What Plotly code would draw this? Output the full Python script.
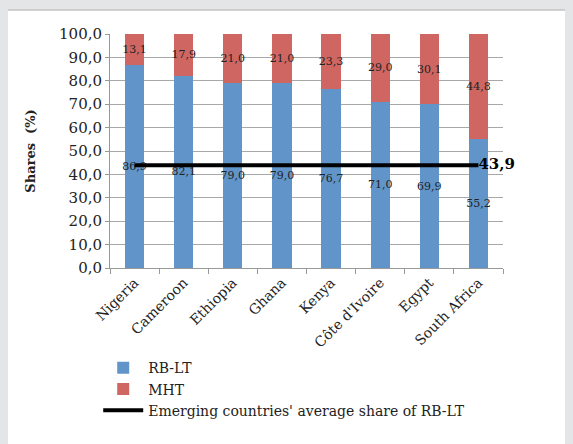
import plotly.graph_objects as go

countries = ["Nigeria", "Cameroon", "Ethiopia", "Ghana", "Kenya",
             "Côte d'Ivoire", "Egypt", "South Africa"]
rb_lt = [86.9, 82.1, 79.0, 79.0, 76.7, 71.0, 69.9, 55.2]
mht = [13.1, 17.9, 21.0, 21.0, 23.3, 29.0, 30.1, 44.8]
emerging_avg = 43.9

SERIF = "DejaVu Serif, Liberation Serif, serif"
BLUE = "#6195c9"
RED = "#cf6661"
FRAME = "#e4e5e7"

label_font = dict(family=SERIF, size=11, color="#222222")

fig = go.Figure()

fig.add_trace(go.Bar(
    name="RB-LT", x=countries, y=rb_lt,
    marker=dict(color=BLUE, line=dict(width=0)),
    texttemplate="%{y:.1f}", textposition="inside", textangle=0,
    insidetextanchor="middle", constraintext="none",
    textfont=label_font,
))
fig.add_trace(go.Bar(
    name="MHT", x=countries, y=mht,
    marker=dict(color=RED, line=dict(width=0)),
    texttemplate="%{y:.1f}", textposition="inside", textangle=0,
    insidetextanchor="middle", constraintext="none",
    textfont=label_font,
))

# average line with its label at the right end
avg_text = [""] * (len(countries) - 1) + ["<b>43,9</b>"]
fig.add_trace(go.Scatter(
    name="Emerging countries' average share of RB-LT",
    x=countries, y=[emerging_avg] * len(countries),
    mode="lines+text", text=avg_text, textposition="middle right",
    textfont=dict(family=SERIF, size=15, color="black"),
    line=dict(color="black", width=4), cliponaxis=False,
))

# white panel on grey frame
fig.add_shape(type="rect", xref="paper", yref="paper", layer="below",
              x0=-0.262, x1=1.3, y0=-0.85, y1=1.103,
              fillcolor="white", line=dict(color="#c4c4c4", width=1.5))

fig.update_layout(
    width=573, height=444,
    margin=dict(l=102, r=78, t=26, b=184),
    barmode="stack", bargap=0.61,
    separators=",.",
    paper_bgcolor=FRAME, plot_bgcolor="white",
    font=dict(family=SERIF, size=14, color="#222222"),
    showlegend=True,
    legend=dict(orientation="v", traceorder="normal",
                x=-0.03, y=-0.36, xanchor="left", yanchor="top",
                bgcolor="rgba(0,0,0,0)", font=dict(family=SERIF, size=14),
                itemwidth=40, tracegroupgap=0),
    xaxis=dict(tickangle=-45, tickson="boundaries", ticks="outside", ticklen=5,
               tickcolor="#999999", showline=True, linecolor="#999999",
               tickfont=dict(family=SERIF, size=14)),
    yaxis=dict(range=[0, 100], dtick=10, tickformat=".1f",
               showgrid=True, gridcolor="#a8a8a8", gridwidth=1,
               showline=True, linecolor="#999999",
               ticks="outside", ticklen=4, tickcolor="#999999",
               tickfont=dict(family=SERIF, size=15),
               title=dict(text="<b>Shares  (%)</b>", font=dict(family=SERIF, size=13),
                          standoff=20)),
)

fig.write_html("out.html",
               post_script=f"document.body.style.background='{FRAME}';")
